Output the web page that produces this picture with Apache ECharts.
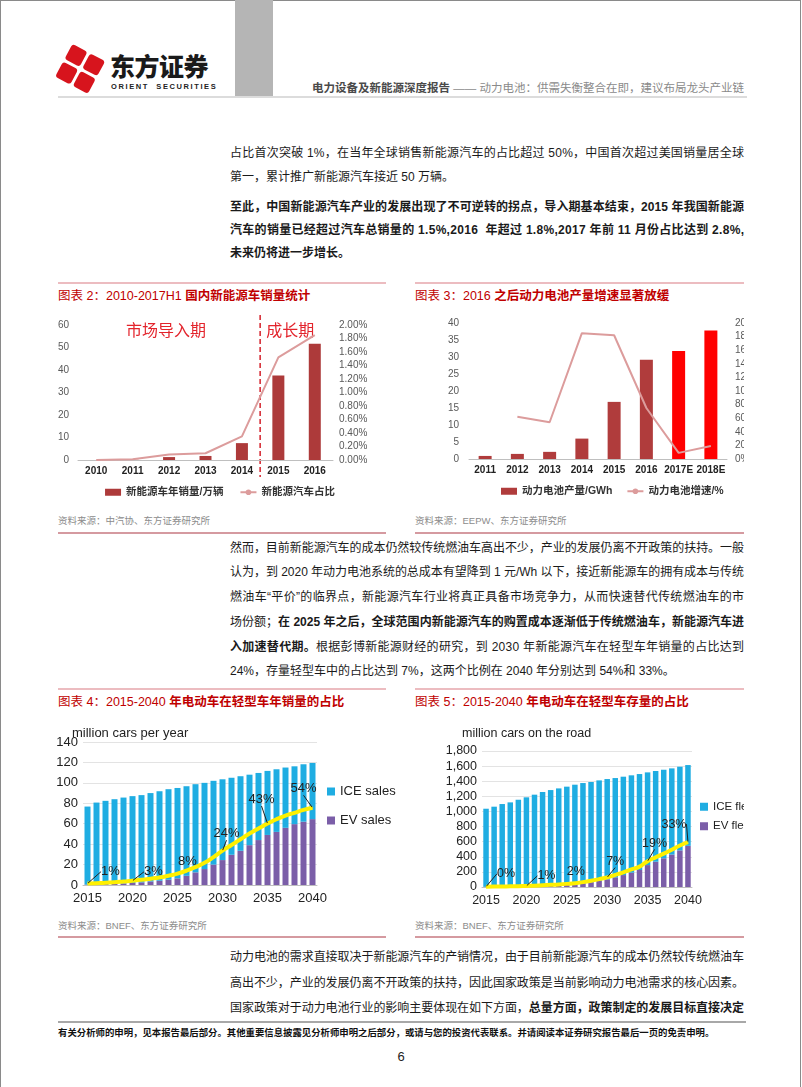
<!DOCTYPE html>
<html><head><meta charset="utf-8">
<script src="https://cdn.jsdelivr.net/npm/echarts@6/dist/echarts.min.js"></script>
<style>
body{margin:0;background:#fff;}
#page{position:relative;width:802px;height:1087px;overflow:hidden;font-family:"Liberation Sans","Noto Sans CJK SC",sans-serif;background:#fff;}
.abs{position:absolute;}
.tl{position:absolute;left:230px;width:514px;font-size:12px;line-height:16px;color:#1a1a1a;white-space:nowrap;}
.b{font-weight:bold;}
.ttl{position:absolute;font-size:12.5px;line-height:16px;color:#c00000;white-space:nowrap;}
.ttl b{font-weight:bold;}
.src{position:absolute;font-size:9.5px;line-height:12px;color:#8c8c8c;white-space:nowrap;}
.tline{position:absolute;height:2px;background:#ecbcc0;}
.sline{position:absolute;height:1.5px;background:#d59aa0;}
.chart{position:absolute;}
</style></head>
<body>
<div id="page">
  <div class="abs" style="left:0;top:0;width:799px;height:1087px;border-left:1px solid #8a8a8a;border-top:1px solid #8a8a8a;border-right:1px solid #8a8a8a;"></div>
  <!-- header -->
  <div class="abs" style="left:235px;top:0;width:38px;height:96px;background:#b5b5b5;"></div>
  <div class="abs" style="left:58px;top:96px;width:689px;height:2px;background:#dcdcdc;"></div>
  <svg class="abs" style="left:55px;top:44px" width="50" height="52" viewBox="0 0 50 52">
    <g fill="#d7141d" transform="rotate(28 24 26)">
      <rect x="6" y="6" width="17" height="17" rx="3"/>
      <rect x="26" y="6" width="17" height="17" rx="3"/>
      <rect x="6" y="26" width="17" height="17" rx="3"/>
      <rect x="26" y="26" width="17" height="17" rx="3"/>
    </g>
  </svg>
  <div class="abs" style="left:110px;top:50px;font-family:'Noto Sans CJK SC';font-weight:900;font-size:25px;line-height:30px;color:#1a1a1a;letter-spacing:-0.5px;">东方证券</div>
  <div class="abs" style="left:111px;top:82px;font-size:7.5px;font-weight:bold;line-height:9px;color:#222;letter-spacing:1.6px;white-space:nowrap;">ORIENT&nbsp; SECURITIES</div>
  <div class="abs" style="right:58px;top:81px;font-size:11.5px;line-height:14px;white-space:nowrap;"><span style="font-weight:bold;color:#4a4a4a;">电力设备及新能源深度报告</span><span style="color:#8a8a8a;"> —— 动力电池：供需失衡整合在即，建议布局龙头产业链</span></div>

  <!-- paragraph A/B -->
  <div class="tl j" style="top:145px;"><span>占比首次突破 1%，在当年全球销售新能源汽车的占比超过 50%，中国首次超过美国销量居全球</span></div>
  <div class="tl" style="top:169px;"><span>第一，累计推广新能源汽车接近 50 万辆。</span></div>
  <div class="tl j b" style="top:199px;"><span>至此，中国新能源汽车产业的发展出现了不可逆转的拐点，导入期基本结束，2015 年我国新能源</span></div>
  <div class="tl j b" style="top:222px;"><span>汽车的销量已经超过汽车总销量的 1.5%,2016&nbsp; 年超过 1.8%,2017 年前 11 月份占比达到 2.8%,</span></div>
  <div class="tl b" style="top:245px;"><span>未来仍将进一步增长。</span></div>

  <!-- chart titles 2/3 -->
  <div class="tline" style="left:58px;top:282px;width:328px;"></div>
  <div class="tline" style="left:415px;top:282px;width:329px;"></div>
  <div class="ttl" style="left:58px;top:288px;">图表 2：2010-2017H1 <b>国内新能源车销量统计</b></div>
  <div class="ttl" style="left:415px;top:288px;">图表 3：2016 <b>之后动力电池产量增速显著放缓</b></div>
  <div id="c2" class="chart" style="left:50px;top:300px;width:340px;height:200px;"></div>
  <div id="c3" class="chart" style="left:410px;top:300px;width:334px;height:200px;"></div>
  <div class="src" style="left:58px;top:515px;">资料来源：中汽协、东方证券研究所</div>
  <div class="src" style="left:415px;top:515px;">资料来源：EEPW、东方证券研究所</div>
  <div class="sline" style="left:58px;top:532px;width:328px;"></div>
  <div class="sline" style="left:415px;top:532px;width:329px;"></div>

  <!-- paragraph C -->
  <div class="tl j" style="top:540px;"><span>然而，目前新能源汽车的成本仍然较传统燃油车高出不少，产业的发展仍离不开政策的扶持。一般</span></div>
  <div class="tl j" style="top:564px;"><span>认为，到 2020 年动力电池系统的总成本有望降到 1 元/Wh 以下，接近新能源车的拥有成本与传统</span></div>
  <div class="tl j" style="top:589px;"><span>燃油车“平价”的临界点，新能源汽车行业将真正具备市场竞争力，从而快速替代传统燃油车的市</span></div>
  <div class="tl j" style="top:614px;"><span>场份额；<b>在 2025 年之后，全球范围内新能源汽车的购置成本逐渐低于传统燃油车，新能源汽车进</b></span></div>
  <div class="tl j" style="top:639px;"><span><b>入加速替代期。</b>根据彭博新能源财经的研究，到 2030 年新能源汽车在轻型车年销量的占比达到</span></div>
  <div class="tl" style="top:663px;"><span>24%，存量轻型车中的占比达到 7%，这两个比例在 2040 年分别达到 54%和 33%。</span></div>

  <!-- chart titles 4/5 -->
  <div class="tline" style="left:58px;top:688px;width:328px;"></div>
  <div class="tline" style="left:415px;top:688px;width:329px;"></div>
  <div class="ttl" style="left:58px;top:694px;">图表 4：2015-2040 <b>年电动车在轻型车年销量的占比</b></div>
  <div class="ttl" style="left:415px;top:694px;">图表 5：2015-2040 <b>年电动车在轻型车存量的占比</b></div>
  <div id="c4" class="chart" style="left:50px;top:715px;width:350px;height:195px;"></div>
  <div id="c5" class="chart" style="left:410px;top:715px;width:334px;height:195px;"></div>
  <div class="src" style="left:58px;top:920px;">资料来源：BNEF、东方证券研究所</div>
  <div class="src" style="left:415px;top:920px;">资料来源：BNEF、东方证券研究所</div>
  <div class="sline" style="left:58px;top:936px;width:328px;"></div>
  <div class="sline" style="left:415px;top:936px;width:329px;"></div>

  <!-- paragraph D -->
  <div class="tl j" style="top:949px;"><span>动力电池的需求直接取决于新能源汽车的产销情况，由于目前新能源汽车的成本仍然较传统燃油车</span></div>
  <div class="tl j" style="top:975px;"><span>高出不少，产业的发展仍离不开政策的扶持，因此国家政策是当前影响动力电池需求的核心因素。</span></div>
  <div class="tl j" style="top:1000px;"><span>国家政策对于动力电池行业的影响主要体现在如下方面，<b>总量方面，政策制定的发展目标直接决定</b></span></div>

  <!-- footer -->
  <div class="abs" style="left:58px;top:1021px;width:688px;height:2px;background:#a8a8a8;"></div>
  <div class="abs" style="left:58px;top:1027px;font-size:9.4px;line-height:12px;font-weight:bold;color:#111;white-space:nowrap;">有关分析师的申明，见本报告最后部分。其他重要信息披露见分析师申明之后部分，或请与您的投资代表联系。并请阅读本证券研究报告最后一页的免责申明。</div>
  <div class="abs" style="left:0;width:802px;top:1049px;text-align:center;font-size:13px;line-height:16px;color:#222;">6</div>
</div>

<script>
// justify each full text line to the column width
document.querySelectorAll('.tl.j').forEach(el => {
  const sp = el.firstElementChild;
  const w = sp.getBoundingClientRect().width;
  const n = sp.textContent.length;
  const ls = (514 - w) / (n - 1);
  sp.style.letterSpacing = ls + 'px';
});

const FONT = '"Liberation Sans","Noto Sans CJK SC",sans-serif';

// ---------- Chart 2 data ----------
const c2Years = ['2010','2011','2012','2013','2014','2015','2016'];
const c2Sales = [0, 0.1, 1.3, 1.8, 7.5, 37.6, 51.7];          // 万辆
const c2Share = [0, 0.01, 0.08, 0.10, 0.35, 1.52, 1.85];       // %
const c2Phases = ['市场导入期', '成长期'];
const c2Names = ['新能源车年销量/万辆', '新能源汽车占比'];

// ---------- Chart 3 data ----------
const c3Years = ['2011','2012','2013','2014','2015','2016','2017E','2018E'];
const c3Output = [0.9, 1.5, 2.1, 6.0, 16.8, 29.2, 31.8, 37.8];  // GWh
const c3Growth = [null, 62, 54, 185, 182, 75, 9, 19];          // %
const c3Estimated = ['2017E', '2018E'];
const c3Names = ['动力电池产量/GWh', '动力电池增速/%'];

// ---------- Chart 4 data ----------
const c4Years = ['2015','2016','2017','2018','2019','2020','2021','2022','2023','2024','2025','2026','2027','2028','2029','2030','2031','2032','2033','2034','2035','2036','2037','2038','2039','2040'];
const c4EV  = [0.4, 0.6, 0.9, 1.2, 1.6, 2.0, 2.6, 3.5, 4.2, 5.2, 6.5, 9.0, 12.4, 15.6, 20.0, 24.4, 29.6, 33.5, 39.0, 44.0, 49.0, 52.0, 56.0, 59.6, 62.0, 64.5];
const c4ICE = [76.4, 80.1, 81.5, 82.8, 84.0, 85.0, 85.4, 86.5, 87.6, 88.6, 88.5, 87.7, 86.3, 84.4, 82.0, 79.1, 75.4, 73.0, 69.0, 65.7, 62.7, 61.3, 59.0, 56.6, 56.2, 55.0];
const c4Share = [1, 1.3, 1.6, 2, 2.5, 3, 3.6, 4.4, 5.3, 6.5, 8, 10, 12.5, 15.5, 19.5, 24, 28, 32, 36, 39.5, 43, 46, 48.5, 50.5, 52.5, 54];
const c4Labeled = [0, 5, 10, 15, 20, 25];

// ---------- Chart 5 data ----------
const c5Years = c4Years;
const c5EV  = [2, 3, 4, 5, 7, 10, 13, 17, 21, 25, 30, 38, 50, 64, 82, 102, 128, 158, 190, 225, 290, 335, 380, 430, 485, 545];
const c5ICE = [1034, 1060, 1094, 1115, 1148, 1177, 1209, 1240, 1262, 1280, 1298, 1316, 1326, 1326, 1329, 1327, 1314, 1302, 1288, 1270, 1227, 1200, 1172, 1140, 1107, 1069];
const c5Share = [0.2, 0.3, 0.4, 0.5, 0.6, 0.8, 1, 1.3, 1.6, 1.9, 2.3, 2.8, 3.6, 4.6, 5.8, 7.1, 8.9, 10.8, 12.9, 15, 19, 21.8, 24.5, 27.4, 30.5, 33];
const c5Labeled = [0, 5, 10, 15, 20, 25];

// ---------- Chart 2 ----------
const ch2 = echarts.init(document.getElementById('c2'));
ch2.setOption({
  animation: false,
  textStyle: {fontFamily: FONT},
  grid: {left: 28, right: 57, top: 25, bottom: 40, outerBoundsMode: 'none'},
  legend: {top: 182, left: 'center', itemGap: 16, itemWidth: 16, itemHeight: 7,
    textStyle: {fontSize: 10.5, fontWeight: 'bold', color: '#333', fontFamily: FONT},
    data: [{name: c2Names[0], icon: 'rect'}, {name: c2Names[1]}]},
  xAxis: {type: 'category', data: c2Years, axisTick: {show: false},
    axisLine: {lineStyle: {color: '#bfbfbf'}},
    axisLabel: {fontSize: 10, fontWeight: 'bold', color: '#222', margin: 6, interval: 0}},
  yAxis: [
    {type: 'value', min: 0, max: 60, interval: 10, splitLine: {show: false},
     axisLabel: {fontSize: 10, color: '#595959', margin: 9}},
    {type: 'value', min: 0, max: 2, interval: 0.2, splitLine: {show: false},
     axisLabel: {fontSize: 10, color: '#595959', margin: 6, formatter: v => v.toFixed(2) + '%'}}
  ],
  series: [
    {name: c2Names[0], type: 'bar', data: c2Sales, barWidth: 12, itemStyle: {color: '#ad3a3a'}},
    {name: c2Names[1], type: 'line', yAxisIndex: 1, data: c2Share, symbol: 'none',
     lineStyle: {color: '#dc9c9c', width: 2}, itemStyle: {color: '#dc9c9c'}}
  ]
});
(function(){
  const xa = ch2.convertToPixel({xAxisIndex: 0}, c2Years[4]);
  const xb = ch2.convertToPixel({xAxisIndex: 0}, c2Years[5]);
  const xm = (xa + xb) / 2;
  ch2.setOption({graphic: [
    {type: 'line', shape: {x1: xm, y1: 15, x2: xm, y2: 177}, style: {stroke: '#d4212b', lineWidth: 1.5, lineDash: [5, 3]}},
    {type: 'text', x: 116, y: 30, style: {text: c2Phases[0], fill: '#e3242c', fontSize: 16, fontFamily: 'Noto Sans CJK SC', align: 'center', verticalAlign: 'middle'}},
    {type: 'text', x: xm + 30, y: 30, style: {text: c2Phases[1], fill: '#e3242c', fontSize: 16, fontFamily: 'Noto Sans CJK SC', align: 'center', verticalAlign: 'middle'}}
  ]});
})();

// ---------- Chart 3 ----------
const ch3 = echarts.init(document.getElementById('c3'));
ch3.setOption({
  animation: false,
  textStyle: {fontFamily: FONT},
  grid: {left: 59, right: 17, top: 23, bottom: 41, outerBoundsMode: 'none'},
  legend: {top: 181, left: 86, itemGap: 14, itemWidth: 16, itemHeight: 7,
    textStyle: {fontSize: 10.5, fontWeight: 'bold', color: '#333', fontFamily: FONT},
    data: [{name: c3Names[0], icon: 'rect'}, {name: c3Names[1]}]},
  xAxis: {type: 'category', data: c3Years, axisTick: {show: false},
    axisLine: {lineStyle: {color: '#bfbfbf'}},
    axisLabel: {fontSize: 10, fontWeight: 'bold', color: '#222', margin: 6, interval: 0}},
  yAxis: [
    {type: 'value', min: 0, max: 40, interval: 5, splitLine: {show: false},
     axisLabel: {fontSize: 10, color: '#595959', margin: 10}},
    {type: 'value', min: 0, max: 200, interval: 20, splitLine: {show: false},
     axisLabel: {fontSize: 10, color: '#595959', margin: 8, formatter: '{value}%'}}
  ],
  series: [
    {name: c3Names[0], type: 'bar', barWidth: 13, itemStyle: {color: '#b03c3c'},
     data: c3Output.map((v, i) => c3Estimated.includes(c3Years[i]) ? {value: v, itemStyle: {color: '#ff0000'}} : v)},
    {name: c3Names[1], type: 'line', yAxisIndex: 1, data: c3Growth, symbol: 'none',
     lineStyle: {color: '#dc9c9c', width: 2}, itemStyle: {color: '#dc9c9c'}}
  ]
});

// ---------- helper for stacked EV charts ----------
function evOption(o) {
  return {
    animation: false,
    textStyle: {fontFamily: FONT},
    title: {text: o.unit, left: o.titleLeft, top: 7, textStyle: {fontSize: o.fs, fontWeight: 'normal', color: '#222', fontFamily: FONT}},
    grid: Object.assign({outerBoundsMode: 'none'}, o.grid),
    legend: {orient: 'vertical', left: o.legendLeft, top: o.legendTop, itemGap: o.legendGap, itemWidth: 8, itemHeight: 8,
      textStyle: {fontSize: o.lfs, color: '#222', fontFamily: FONT},
      data: [{name: o.names[0], icon: 'rect'}, {name: o.names[1], icon: 'rect'}]},
    xAxis: {type: 'category', data: o.years, axisTick: {show: false},
      axisLine: {lineStyle: {color: '#bfbfbf'}},
      axisLabel: {interval: 4, fontSize: o.fs, color: '#222', margin: 7}},
    yAxis: [
      {type: 'value', min: 0, max: o.max, interval: o.step,
       splitLine: {lineStyle: {color: '#e3e3e3'}}, axisLine: {show: false}, axisTick: {show: false},
       axisLabel: {fontSize: o.fs, color: '#222', margin: 5, formatter: v => v.toLocaleString('en-US')}},
      {type: 'value', min: 0, max: 100, show: false}
    ],
    series: [
      {name: o.names[1], type: 'bar', stack: 's', data: o.ev, barWidth: o.bw, itemStyle: {color: '#7b5ea8'}},
      {name: o.names[0], type: 'bar', stack: 's', data: o.ice, barWidth: o.bw, itemStyle: {color: '#1fade2'}},
      {name: 'share', type: 'line', yAxisIndex: 1, smooth: true, z: 5,
       symbol: 'circle', symbolSize: 1, showSymbol: true,
       lineStyle: {color: '#fff000', width: 4}, itemStyle: {color: '#fff000'},
       label: {show: false, position: 'inside', fontSize: o.fs, color: '#222', fontFamily: FONT,
               formatter: p => Math.round(p.value) + '%'},
       labelLine: {show: false, lineStyle: {color: '#222', width: 1}},
       labelLayout: p => {
         const k = o.labeled.indexOf(p.dataIndex);
         if (k < 0) return {};
         return {dx: o.offsets[k][0], dy: o.offsets[k][1]};
       },
       data: o.share.map((v, i) => o.labeled.includes(i)
         ? {value: v, label: {show: true}, labelLine: {show: o.lines[o.labeled.indexOf(i)]}} : v)}
    ]
  };
}

const ch4 = echarts.init(document.getElementById('c4'));
ch4.setOption(evOption({
  unit: 'million cars per year', titleLeft: 17, fs: 13, lfs: 13,
  grid: {left: 33, right: 83, top: 27, bottom: 25},
  legendLeft: 272, legendTop: 65, legendGap: 16,
  names: ['ICE sales', 'EV sales'], years: c4Years, ev: c4EV, ice: c4ICE, share: c4Share,
  max: 140, step: 20, bw: 6, labeled: c4Labeled,
  offsets: [[23, -12], [21, -9], [10, -12], [4, -17], [-6, -24], [-9, -19]],
  lines: [true, true, false, true, true, true]
}));

const ch5 = echarts.init(document.getElementById('c5'));
ch5.setOption(evOption({
  unit: 'million cars on the road', titleLeft: 47, fs: 12.5, lfs: 11.5,
  grid: {left: 72, right: 52, top: 36, bottom: 23},
  legendLeft: 285, legendTop: 81, legendGap: 8,
  names: ['ICE fleet', 'EV fleet'], years: c5Years, ev: c5EV, ice: c5ICE, share: c5Share,
  max: 1800, step: 200, bw: 5.5, labeled: c5Labeled,
  offsets: [[20, -13], [20, -10], [9, -12], [8, -16], [7, -18], [-14, -18]],
  lines: [true, true, false, true, true, true]
}));
</script>
</body></html>
